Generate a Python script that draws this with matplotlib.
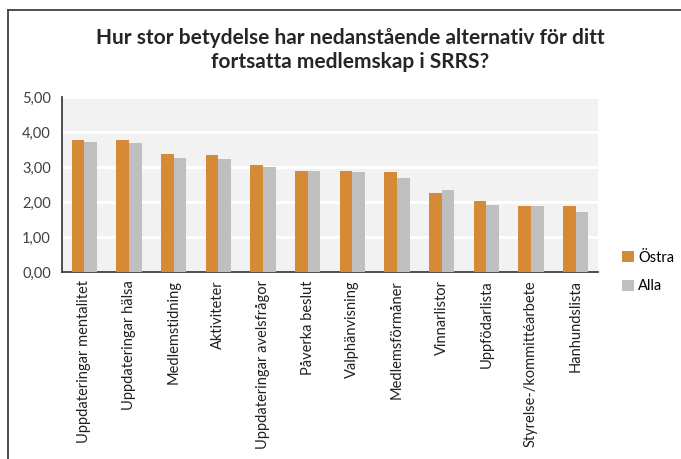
import numpy as np
import matplotlib.pyplot as plt
from matplotlib.lines import Line2D

# data
categories = ["Uppdateringar mentalitet", "Uppdateringar hälsa", "Medlemstidning",
              "Aktiviteter", "Uppdateringar avelsfrågor", "Påverka beslut",
              "Valphänvisning", "Medlemsförmåner", "Vinnarlistor", "Uppfödarlista",
              "Styrelse-/kommittéarbete", "Hanhundslista"]
ostra = [3.77, 3.77, 3.36, 3.33, 3.06, 2.89, 2.89, 2.85, 2.27, 2.03, 1.89, 1.89]
alla = [3.71, 3.68, 3.27, 3.23, 2.99, 2.89, 2.85, 2.68, 2.34, 1.92, 1.89, 1.72]
yticks = [0, 1, 2, 3, 4, 5]

plt.rcParams['font.family'] = ['Lato', 'DejaVu Sans']

W, H = 681, 459
fig = plt.figure(figsize=(W / 100, H / 100), dpi=100)
ax = fig.add_axes([62 / W, 1 - 272 / H, (598 - 62) / W, (272 - 97) / H])

x = np.arange(len(categories))
bw = 0.28
ax.bar(x - bw / 2, ostra, bw, color="#D58A35", label="Östra", zorder=3)
ax.bar(x + bw / 2, alla, bw, color="#BFBFBF", label="Alla", zorder=3)

ax.set_facecolor("#F2F2F2")
ax.set_xlim(-0.5, len(categories) - 0.5)
ax.set_ylim(0, 5)
ax.set_yticks(yticks)
ax.set_yticklabels([("%.2f" % v).replace(".", ",") for v in yticks],
                   fontsize=10.5, color="#404040")
ax.yaxis.grid(True, color="white", lw=2.2, zorder=0)
ax.tick_params(axis="y", length=0, pad=8)
ax.set_xticks(x)
ax.set_xticklabels(categories, rotation=90, fontsize=10.5, color="#202020")
ax.tick_params(axis="x", length=0, pad=6)
for s in ["top", "right"]:
    ax.spines[s].set_visible(False)
for s in ["left", "bottom"]:
    ax.spines[s].set_color("#404040")
    ax.spines[s].set_linewidth(1.3)

ax.legend(loc="center left", bbox_to_anchor=(1.02, -0.0), frameon=False,
          handlelength=0.8, handleheight=0.8, handletextpad=0.3,
          labelspacing=1.0, fontsize=10.5)

fig.text(350 / W, 1 - 50 / H,
         "Hur stor betydelse har nedanstående alternativ för ditt\nfortsatta medlemskap i SRRS?",
         ha="center", va="center", fontsize=15, fontweight="bold",
         color="#262626", linespacing=1.25)

# chart frame (left and top edges visible)
fig.add_artist(Line2D([8 / W, 8 / W], [0, 1 - 10 / H], color="#404040", lw=1.3,
                      transform=fig.transFigure))
fig.add_artist(Line2D([8 / W, 1], [1 - 10 / H, 1 - 10 / H], color="#404040", lw=1.3,
                      transform=fig.transFigure))

fig.savefig("out.png", dpi=100)
